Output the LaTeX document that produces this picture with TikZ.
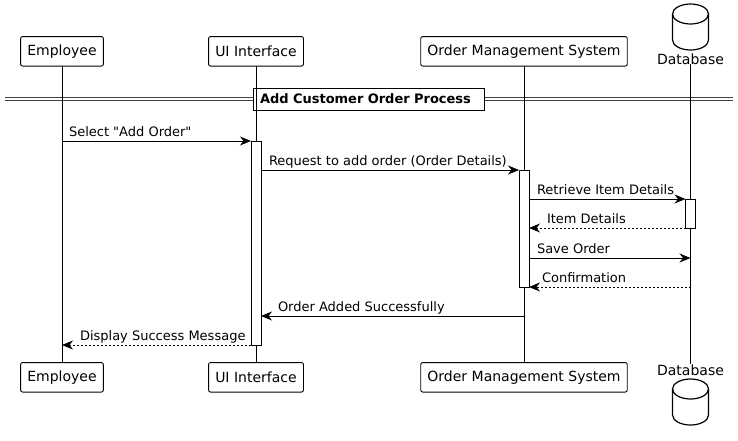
\documentclass[tikz,border=0pt]{standalone}
\usepackage{fontspec}
\setmainfont{DejaVu Sans}[Ligatures=TeXOff]
\usetikzlibrary{arrows.meta}

\tikzset{
  actor/.style={draw, rounded corners=2pt, minimum height=29.5pt, inner xsep=6.7pt, inner ysep=0pt, font=\fontsize{14}{16}\selectfont},
  dblabel/.style={inner sep=0pt, font=\fontsize{14}{16}\selectfont},
  bar/.style={draw, fill=white, minimum width=10pt, inner sep=0pt},
  msg/.style={-{Stealth[length=11pt,width=9pt,inset=3.5pt]}},
  reply/.style={msg, dash pattern=on 2pt off 2pt},
  lbl/.style={anchor=base west, inner sep=0pt, font=\fontsize{13}{15}\selectfont},
}

\begin{document}
\begin{tikzpicture}[x=1pt,y=-1pt,outer sep=0pt,line width=0.9pt]
\useasboundingbox (0,0) rectangle (738,440);
% group divider
\coordinate (divL) at (5,97);
\coordinate (divR) at (733,97);
\draw[black!75] (divL) -- (divR);
\draw[black!75] ([yshift=-3pt]divL) -- ([yshift=-3pt]divR);
\node (sect) at (253,99) [anchor=west, draw, fill=white, text width=217pt, align=left, inner xsep=7pt, inner ysep=0pt, minimum height=22pt, font=\bfseries\fontsize{13}{15}\selectfont] {Add Customer Order Process};
% participants
\node (empT) at (62,51.3) [actor] {Employee};
\node (uiT) at (256,51.3) [actor] {UI Interface};
\node (omsT) at (524,51.3) [actor] {Order Management System};
\node (dbT) at (690.5,64) [dblabel, anchor=base] {Database};
\node (empB) at (62,377.3) [actor] {Employee};
\node (uiB) at (256,377.3) [actor] {UI Interface};
\node (omsB) at (524,377.3) [actor] {Order Management System};
\node (dbB) at (690.5,375) [dblabel, anchor=base] {Database};
% database cylinders
\draw[line width=1.2pt, fill=white] (672.5,14) arc[start angle=180, end angle=0, x radius=18pt, y radius=10pt] -- (708.5,40) arc[start angle=0, end angle=-180, x radius=18pt, y radius=10pt] -- cycle;
\draw[line width=1.2pt] (672.5,14) arc[start angle=180, end angle=360, x radius=18pt, y radius=10pt];
\draw[line width=1.2pt, fill=white] (672.5,389) arc[start angle=180, end angle=0, x radius=18pt, y radius=10pt] -- (708.5,415) arc[start angle=0, end angle=-180, x radius=18pt, y radius=10pt] -- cycle;
\draw[line width=1.2pt] (672.5,389) arc[start angle=180, end angle=360, x radius=18pt, y radius=10pt];
% lifelines
\draw (empT) -- (empB);
\draw (uiT) -- (uiB);
\draw (omsT) -- (omsB);
\draw (dbT) -- (dbB);
% activations
\node (actUI) at (256,243) [bar, minimum height=204pt] {};
\node (actOMS) at (524,228.5) [bar, minimum height=117pt] {};
\node (actDB) at (690.5,213.5) [bar, minimum height=29pt] {};
% messages
\draw[msg] (empT |- actUI.north) -- (actUI.north west);
\node (m1) at (69,136) [lbl] {Select "Add Order"};
\draw[msg] (actUI.north east |- actOMS.north) -- (actOMS.north west);
\node (m2) at (269,165) [lbl] {Request to add order (Order Details)};
\draw[msg] (actOMS.east |- actDB.north) -- (actDB.north west);
\node (m3) at (537,194) [lbl] {Retrieve Item Details};
\draw[reply] (actDB.south west) -- (actOMS.east |- actDB.south);
\node (m4) at (547,223) [lbl] {Item Details};
\coordinate (dbSave) at (690.5,258);
\draw[msg] (actOMS.east |- dbSave) -- (dbSave);
\node (m5) at (537,253) [lbl] {Save Order};
\draw[reply] (dbT |- actOMS.south) -- (actOMS.south east);
\node (m6) at (542,282) [lbl] {Confirmation};
\coordinate (omsDone) at (524,316);
\draw[msg] (omsDone) -- (actUI.east |- omsDone);
\node (m7) at (278,311) [lbl] {Order Added Successfully};
\draw[reply] (actUI.south west) -- (empT |- actUI.south);
\node (m8) at (80,340) [lbl] {Display Success Message};
\end{tikzpicture}
\end{document}
